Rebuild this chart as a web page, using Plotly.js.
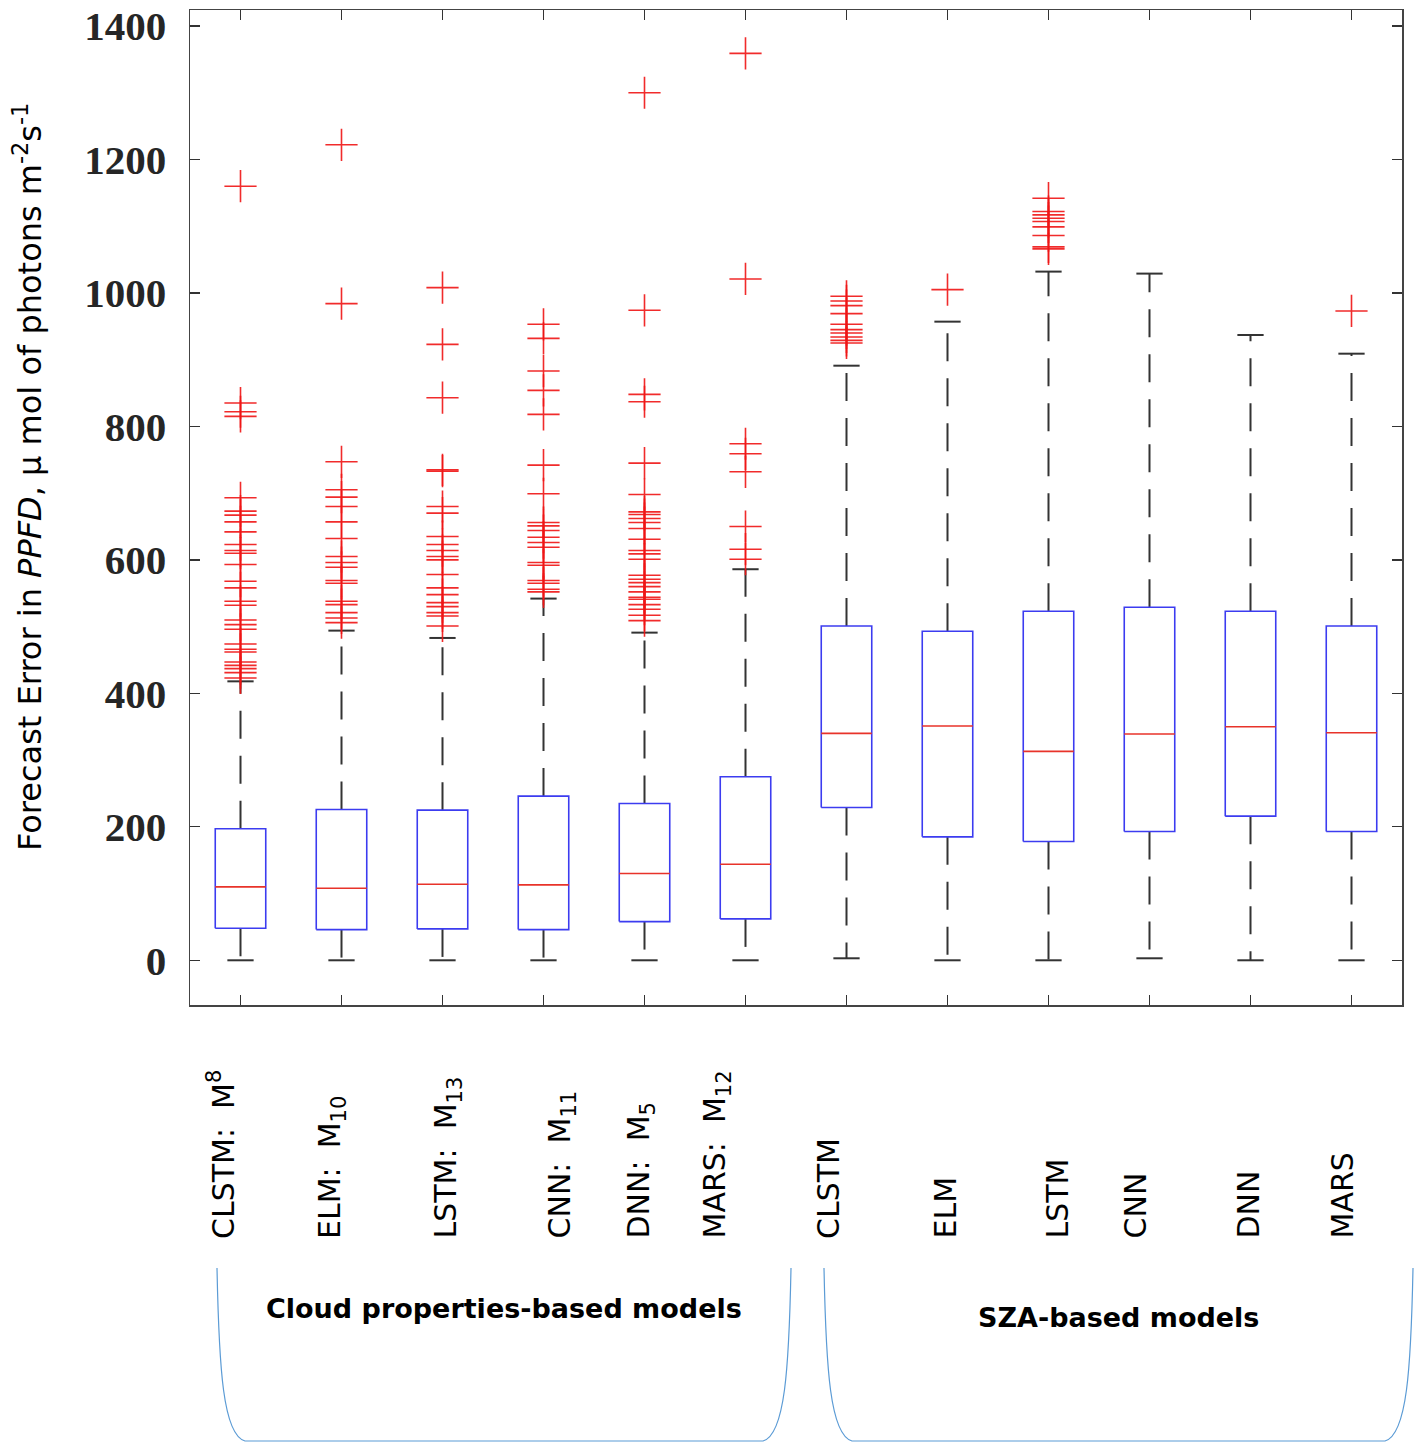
<!DOCTYPE html>
<html>
<head>
<meta charset="utf-8">
<script src="https://cdn.plot.ly/plotly-3.0.1.min.js"></script>
<style>html,body{margin:0;padding:0;background:#fff;}</style>
</head>
<body>
<div id="chart" style="width:1426px;height:1443px;"></div>
<script>
// ---------------- data ----------------
const modelLabels = [
  "CLSTM:\u00a0 M<sup>8</sup>", "ELM:\u00a0 M<sub>10</sub>", "LSTM:\u00a0 M<sub>13</sub>",
  "CNN:\u00a0 M<sub>11</sub>", "DNN:\u00a0 M<sub>5</sub>", "MARS:\u00a0 M<sub>12</sub>",
  "CLSTM", "ELM", "LSTM", "CNN", "DNN", "MARS"
];
const groupNames = ["Cloud properties-based models", "SZA-based models"];

const lowerWhisker = [0, 0, 0, 0, 0, 0, 3, 0, 0, 3, 0, 0];
const q1Values     = [48, 46, 47, 46, 58, 62, 229, 185, 178, 193, 216, 193];
const medianValues = [110, 108, 114, 113, 130, 144, 340, 351, 313, 339, 350, 341];
const q3Values     = [197, 226, 225, 246, 235, 275, 501, 493, 523, 529, 523, 501];
const upperWhisker = [418, 494, 483, 542, 491, 586, 891, 957, 1032, 1029, 937, 909];

const outliers1  = [1160, 835, 822, 815, 693, 673, 667, 657, 642, 623, 614, 610, 593, 568, 558, 538, 532, 510, 503, 496, 474, 466, 462, 447, 442, 437, 431, 423];
const outliers2  = [1222, 984, 747, 705, 694, 680, 657, 632, 605, 596, 589, 569, 565, 538, 533, 521, 513, 506];
const outliers3  = [1008, 923, 843, 735, 733, 680, 670, 635, 623, 614, 605, 600, 578, 558, 548, 536, 530, 521, 516, 501];
const outliers4  = [953, 932, 883, 854, 818, 742, 699, 656, 651, 644, 634, 626, 619, 596, 592, 569, 565, 556, 552];
const outliers5  = [1300, 974, 848, 837, 745, 698, 672, 668, 662, 656, 647, 631, 614, 609, 601, 577, 571, 566, 560, 552, 544, 541, 533, 526, 517, 509];
const outliers6  = [1359, 1021, 774, 759, 732, 650, 616, 601];
const outliers7  = [995, 988, 981, 969, 953, 945, 940, 934, 929, 925];
const outliers8  = [1005];
const outliers9  = [1142, 1122, 1117, 1112, 1107, 1099, 1086, 1069, 1066];
const outliers10 = [];
const outliers11 = [];
const outliers12 = [973];
const allOutliers = [outliers1, outliers2, outliers3, outliers4, outliers5, outliers6,
                     outliers7, outliers8, outliers9, outliers10, outliers11, outliers12];

const yTickValues = [0, 200, 400, 600, 800, 1000, 1200, 1400];

// ---------------- styling constants ----------------
const BOX_HALF = 0.25, CAP_HALF = 0.13;
const labelNudge = [-19, -10, 4, 17, -5, -30, -18, -3, 8, -15, -3, -10];

// ---------------- build marks from data ----------------
const boxX = [], boxY = [], medX = [], medY = [], whX = [], whY = [], capX = [], capY = [], outX = [], outY = [];
modelLabels.forEach((_, i) => {
  const c = i + 1, x0 = c - BOX_HALF, x1 = c + BOX_HALF;
  boxX.push(x0, x1, x1, x0, x0, null);
  boxY.push(q1Values[i], q1Values[i], q3Values[i], q3Values[i], q1Values[i], null);
  medX.push(x0, x1, null);
  medY.push(medianValues[i], medianValues[i], null);
  whX.push(c, c, null, c, c, null);
  whY.push(q3Values[i], upperWhisker[i], null, q1Values[i], lowerWhisker[i], null);
  capX.push(c - CAP_HALF, c + CAP_HALF, null, c - CAP_HALF, c + CAP_HALF, null);
  capY.push(upperWhisker[i], upperWhisker[i], null, lowerWhisker[i], lowerWhisker[i], null);
  allOutliers[i].forEach(v => { outX.push(c); outY.push(v); });
});

const traces = [
  {x: whX, y: whY, mode: 'lines', line: {color: '#333333', width: 2, dash: '28px,17px'}, hoverinfo: 'skip'},
  {x: capX, y: capY, mode: 'lines', line: {color: '#333333', width: 2}, hoverinfo: 'skip'},
  {x: boxX, y: boxY, mode: 'lines', line: {color: '#3c3cf0', width: 1.6}, hoverinfo: 'skip'},
  {x: medX, y: medY, mode: 'lines', line: {color: '#e8332a', width: 1.6}, hoverinfo: 'skip'},
  {x: outX, y: outY, mode: 'markers',
   marker: {symbol: 'cross-thin-open', size: 23, color: 'rgba(240,20,20,0.9)',
            line: {color: 'rgba(240,20,20,0.9)', width: 1.6}}}
];

// ---------------- layout helpers (pixel -> paper) ----------------
const W = 1426, H = 1443, ML = 190, MR = 24, MT = 10, MB = 438;
const PW = W - ML - MR, PH = H - MT - MB;
const px = v => (v - ML) / PW;
const py = v => (H - MB - v) / PH;

function bracketPath(xl, xr, ytop, ybot) {
  return `M ${px(xl)} ${py(ytop)} ` +
         `C ${px(xl + 2)} ${py(ytop + 100)}, ${px(xl + 6)} ${py(ybot - 6)}, ${px(xl + 28)} ${py(ybot)} ` +
         `L ${px(xr - 28)} ${py(ybot)} ` +
         `C ${px(xr - 6)} ${py(ybot - 6)}, ${px(xr - 2)} ${py(ytop + 100)}, ${px(xr)} ${py(ytop)}`;
}

const annotations = modelLabels.map((t, i) => ({
  x: i + 1, xref: 'x', y: py(1241), yref: 'paper',
  text: t, textangle: -90, showarrow: false,
  xanchor: 'center', yanchor: 'bottom', xshift: labelNudge[i],
  font: {family: 'DejaVu Sans, Verdana, sans-serif', size: 30, color: '#000'}
}));
annotations.push(
  {x: px(504), y: py(1308), xref: 'paper', yref: 'paper', text: groupNames[0], showarrow: false,
   xanchor: 'center', yanchor: 'middle',
   font: {family: 'DejaVu Sans, Verdana, sans-serif', size: 27, color: '#000', weight: 'bold'}},
  {x: px(1118), y: py(1317), xref: 'paper', yref: 'paper', text: groupNames[1], showarrow: false,
   xanchor: 'center', yanchor: 'middle',
   font: {family: 'DejaVu Sans, Verdana, sans-serif', size: 27, color: '#000', weight: 'bold'}},
  {x: px(28), y: py(477), xref: 'paper', yref: 'paper', textangle: -90, showarrow: false,
   xanchor: 'center', yanchor: 'middle',
   text: 'Forecast Error in <i>PPFD</i>, \u03bc mol of photons m<sup>-2</sup>s<sup>-1</sup>',
   font: {family: 'DejaVu Sans, Verdana, sans-serif', size: 32, color: '#000'}}
);

const shapes = [
  {type: 'path', xref: 'paper', yref: 'paper', path: bracketPath(217, 791, 1268, 1441),
   line: {color: '#5b9bd5', width: 1.2}},
  {type: 'path', xref: 'paper', yref: 'paper', path: bracketPath(824, 1413, 1268, 1441),
   line: {color: '#5b9bd5', width: 1.2}}
];

const layout = {
  width: W, height: H,
  margin: {l: ML, r: MR, t: MT, b: MB, pad: 0},
  paper_bgcolor: '#fff', plot_bgcolor: '#fff',
  showlegend: false,
  xaxis: {
    range: [0.5, 12.5], tickmode: 'array', tickvals: modelLabels.map((_, i) => i + 1),
    showticklabels: false, ticks: 'inside', ticklen: 10, tickwidth: 1.3, tickcolor: '#333',
    showline: true, linecolor: '#444', linewidth: 1.5, mirror: 'ticks',
    showgrid: false, zeroline: false, fixedrange: true
  },
  yaxis: {
    range: [-67, 1424], tickmode: 'array', tickvals: yTickValues,
    ticktext: yTickValues.map(String),
    ticks: 'inside', ticklen: 10, tickwidth: 1.3, tickcolor: '#333',
    showline: true, linecolor: '#444', linewidth: 1.5, mirror: 'ticks',
    showgrid: false, zeroline: false, ticklabelstandoff: 14,
    tickfont: {family: 'Liberation Serif, Times New Roman, serif', size: 41, color: '#262626', weight: 'bold'}
  },
  annotations: annotations,
  shapes: shapes
};

Plotly.newPlot('chart', traces, layout, {displayModeBar: false, staticPlot: true});
</script>
</body>
</html>
